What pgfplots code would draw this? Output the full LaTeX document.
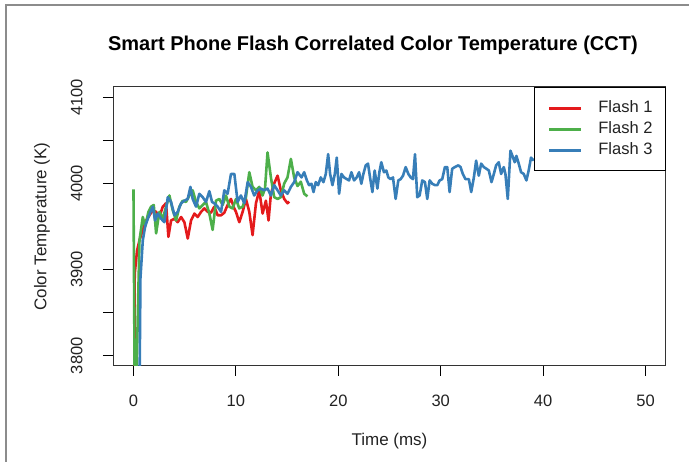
\documentclass[border=0pt]{standalone}
\usepackage{pgfplots}
\pgfplotsset{compat=1.18}
\usepackage{fontspec}
\setmainfont{Liberation Sans}
\definecolor{c1}{HTML}{E41A1C}
\definecolor{c2}{HTML}{4DAF4A}
\definecolor{c3}{HTML}{377EB8}
\definecolor{txt}{HTML}{222222}
\begin{document}
\begin{tikzpicture}
\path[use as bounding box] (0pt,0pt) rectangle (689pt,462pt);
\draw[color=black!45, line width=2pt] (5.5pt,0pt) -- (5.5pt,457pt) -- (689pt,457pt);
\begin{axis}[
  at={(113pt,96pt)}, anchor=south west,
  scale only axis, width=553pt, height=279pt,
  xmin=-2, xmax=52, ymin=3788, ymax=4112,
  xtick={0,10,20,30,40,50}, xticklabels={0,10,20,30,40,50},
  ytick={3800,3850,3900,3950,4000,4050,4100},
  yticklabels={3800,,3900,,4000,,4100},
  xtick pos=bottom, ytick pos=left,
  tick align=outside, major tick length=10pt,
  tick style={black, line width=1pt},
  axis line style={draw=black!80, line width=1pt},
  ticklabel style={font=\fontsize{16.5}{18}\selectfont, text=txt},
  xticklabel style={yshift=-15pt},
  yticklabel style={xshift=-17pt, rotate=90, anchor=south},
  title={Smart Phone Flash Correlated Color Temperature (CCT)},
  title style={at={(axis description cs:0.470,1.129)}, anchor=center, font=\bfseries\fontsize{20}{24}\selectfont, text=black},
  xlabel={Time (ms)},
  xlabel style={at={(axis description cs:0.5,-0.27)}, anchor=center, font=\fontsize{17}{19}\selectfont, text=txt},
  ylabel={Color Temperature (K)},
  ylabel style={at={(axis description cs:-0.1284,0.5)}, anchor=center, font=\fontsize{17}{19}\selectfont, text=txt},
  legend cell align=left,
  legend image code/.code={\draw[#1] (0pt,0pt) -- (32pt,0pt);},
  legend style={at={(1,1)}, anchor=north east, draw=black, line width=1pt,
    font=\fontsize{16.5}{18}\selectfont, text=txt,
    inner xsep=13pt, inner ysep=13pt,
    nodes={inner sep=0pt, text height=12pt, text depth=3.5pt},
    /tikz/every odd column/.append style={column sep=16pt},
    row sep=5.5pt},
  every axis plot/.append style={line width=2.6pt, line join=round},
]
\addplot[c1] coordinates {
(0.08,3700)(0.12,3895)(0.35,3922)(0.585,3934)(0.91,3946)(1.24,3957)(1.56,3963)(1.89,3969)(2.21,3967)(2.53,3961)(2.86,3973)(3.18,3977)(3.41,3938)(3.67,3957)(4.0,3959)(4.32,3955)(4.65,3961)(4.97,3955)(5.30,3936)(5.62,3957)(5.95,3965)(6.27,3961)(6.6,3967)(6.92,3971)(7.25,3967)(7.57,3966)(7.89,3973)(8.22,3963)(8.55,3963)(8.87,3966)(9.19,3975)(9.52,3982)(9.84,3971)(10.01,3967)(10.33,3955)(10.66,3967)(10.98,3982)(11.31,3967)(11.63,3940)(11.96,3977)(12.28,3992)(12.61,3965)(12.93,3980)(13.19,3957)(13.42,3988)(13.74,4000)(14.07,4009)(14.39,3992)(14.72,3982)(15.04,3977)(15.2,3979)
};
\addlegendentry{Flash 1}
\addplot[c2] coordinates {
(0,3993)(0.15,3700)(0.585,3934)(0.91,3961)(1.14,3950)(1.46,3967)(1.72,3973)(1.98,3975)(2.21,3942)(2.53,3967)(2.86,3959)(3.18,3973)(3.51,3986)(3.83,3969)(4.16,3957)(4.48,3973)(4.81,3980)(5.13,3978.5)(5.46,3986)(5.78,3992)(6.11,3978.5)(6.43,3971)(6.76,3975)(7.08,3978.5)(7.41,3965)(7.73,3946)(8.06,3980)(8.38,3982)(8.71,3975)(9.03,3986)(9.36,3973)(9.68,3971)(10.01,3982)(10.33,3971)(10.66,3973)(10.98,3984)(11.31,4013)(11.63,3996)(11.96,3992)(12.28,3996)(12.61,3986)(12.85,3995)(13.09,4036)(13.42,4007)(13.74,3984)(14.07,3982)(14.39,3984)(14.72,4000)(15.04,4007)(15.37,4028.5)(15.69,4007)(16.02,3997)(16.34,4002)(16.67,3988)(16.99,3985)
};
\addlegendentry{Flash 2}
\addplot[c3] coordinates {
(0.55,3700)(0.68,3890)(0.91,3934)(1.14,3950)(1.40,3959)(1.66,3967)(1.89,3973)(2.11,3957)(2.37,3965)(2.70,3959)(3.02,3955)(3.35,3984)(3.67,3978.5)(4.0,3963)(4.32,3967)(4.65,3977)(4.97,3980)(5.30,3982)(5.56,3996)(5.78,3982)(6.11,3973)(6.43,3988)(6.76,3984)(7.08,3978.5)(7.41,3991)(7.67,3978.5)(7.89,3977)(8.22,3973)(8.55,3967)(8.87,3992)(9.19,3988)(9.52,4011)(9.85,4011)(10.17,3978.5)(10.49,3986)(10.82,3977)(11.15,4001.5)(11.47,3996)(11.79,3986)(12.12,3992)(12.44,3994)(12.77,3992)(13.09,3994)(13.42,3986)(13.74,3998)(14.07,3992)(14.39,3986)(14.72,3992)(15.04,3988)(15.37,3996)(15.69,4001.5)(16.02,4013)(16.41,4007)(16.67,4013)(16.93,4003.5)(17.15,3998)(17.38,3999.6)(17.58,3990)(17.80,4001.5)(18.03,3998)(18.29,4007)(18.55,4001.5)(18.78,4011)(19.01,4034)(19.20,4011)(19.43,3998)(19.66,4011)(19.85,4030)(20.08,3988)(20.31,4011)(20.56,4007)(20.83,4005)(21.05,4003.5)(21.28,4013)(21.54,4003.5)(21.80,4007)(22.03,4013)(22.25,3999.6)(22.45,4011)(22.68,4021)(22.90,4023)(23.10,4007)(23.33,3990)(23.55,4015)(23.82,3994)(24.01,4013)(24.20,4024.6)(24.46,4013)(24.69,4015)(24.89,4007)(25.11,4005)(25.34,4007)(25.60,3982)(25.86,4003.5)(26.09,4005)(26.32,4009)(26.58,4019)(26.84,4011)(27.07,4007)(27.29,4005)(27.49,4034)(27.71,3984)(27.94,3986)(28.2,4003.5)(28.46,4001.5)(28.69,3982)(28.92,4003.5)(29.18,3999.6)(29.44,3998)(29.67,3998)(29.89,4003.5)(30.15,4005)(30.41,4019)(30.64,4019)(30.87,3990)(31.12,4017)(31.38,4019)(31.71,4021)(31.94,4019)(32.16,4011)(32.42,4005)(32.75,4005)(32.98,3990)(33.24,4007)(33.46,4026.5)(33.72,4009)(33.95,4023)(34.21,4019)(34.47,4017)(34.7,4015)(34.96,4001.5)(35.19,4011)(35.41,4021)(35.67,4024.6)(35.9,4011)(36.16,4019)(36.32,4011)(36.55,3982)(36.81,4038)(37.07,4030)(37.23,4024.6)(37.39,4032)(37.62,4023)(37.85,4013)(38.11,4011)(38.37,4003.5)(38.59,4015)(38.82,4030)(39.08,4026.5)
};
\addlegendentry{Flash 3}
\end{axis}
\end{tikzpicture}
\end{document}
